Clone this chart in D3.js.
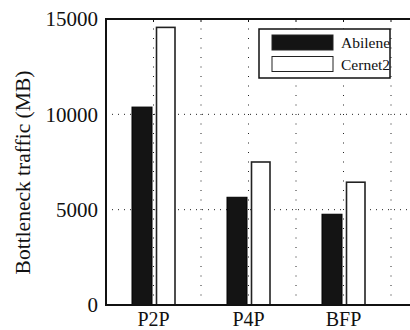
<!DOCTYPE html>
<html><head><meta charset="utf-8">
<script src="https://cdn.jsdelivr.net/npm/d3@7"></script>
<style>body{margin:0;background:#fff}svg{display:block}</style>
</head><body>
<svg id="c" width="410" height="330"></svg>
<script>
const categories = ["P2P", "P4P", "BFP"];
const seriesNames = ["Abilene", "Cernet2"];
const abilene = [10380, 5650, 4760];
const cernet2 = [14560, 7500, 6440];
const yTicks = [0, 5000, 10000, 15000];
const gridX = [1, 1.5, 2, 2.5, 3, 3.5];

(function () {
const FONT = "'Liberation Serif', 'Times New Roman', Times, serif";
const svg = d3.select("#c").attr("font-family", FONT);
const pl = 106, pt = 19, pb = 305;
const x = d3.scaleLinear().domain([0.5, 4]).range([pl, pl + 95 * 3.5]);
const y = d3.scaleLinear().domain([0, 15000]).range([pb, pt]);

// grid
svg.append("g").selectAll("line").data(gridX).join("line")
  .attr("x1", d => x(d)).attr("x2", d => x(d)).attr("y1", pt).attr("y2", pb)
  .attr("stroke", "#222").attr("stroke-width", 1).attr("stroke-dasharray", "1,8.5");
svg.append("g").selectAll("line").data([5000, 10000]).join("line")
  .attr("x1", pl).attr("x2", 410).attr("y1", d => y(d)).attr("y2", d => y(d))
  .attr("stroke", "#222").attr("stroke-width", 1).attr("stroke-dasharray", "1,5");

// bars
const data = categories.map((c, i) => ({c, i: i + 1, a: abilene[i], b: cernet2[i]}));
svg.append("g").selectAll("rect").data(data).join("rect")
  .attr("x", d => x(d.i) - 21.5).attr("width", 20)
  .attr("y", d => y(d.a)).attr("height", d => y(0) - y(d.a))
  .attr("fill", "#141414").attr("stroke", "#000").attr("stroke-width", 1);
svg.append("g").selectAll("rect").data(data).join("rect")
  .attr("x", d => x(d.i) + 3).attr("width", 18.5)
  .attr("y", d => y(d.b)).attr("height", d => y(0) - y(d.b))
  .attr("fill", "#fff").attr("stroke", "#222").attr("stroke-width", 1.6);

// frame
svg.append("path").attr("d", `M${x(4)},${pt}H${pl}V${pb}H${x(4)}`)
  .attr("fill", "none").attr("stroke", "#111").attr("stroke-width", 2);
svg.append("g").selectAll("line").data(gridX).join("line")
  .attr("x1", d => x(d)).attr("x2", d => x(d)).attr("y1", pt).attr("y2", pt + 3)
  .attr("stroke", "#111").attr("stroke-width", 1);

// y tick labels
svg.append("g").selectAll("text").data(yTicks).join("text")
  .attr("x", pl - 8).attr("y", d => y(d)).attr("dy", "0.35em").attr("fill", "#111")
  .attr("text-anchor", "end").attr("font-size", 21).text(d => d);

// x labels
svg.append("g").selectAll("text").data(data).join("text")
  .attr("x", d => x(d.i)).attr("y", 326).attr("fill", "#111")
  .attr("text-anchor", "middle").attr("font-size", 20).text(d => d.c);

// y title
svg.append("text").attr("transform", `translate(30,${(78 + 267) / 2}) rotate(-90)`)
  .attr("text-anchor", "middle").attr("font-size", 21.5).attr("fill", "#111").text("Bottleneck traffic (MB)");

// legend
const lg = svg.append("g");
lg.append("rect").attr("x", 259).attr("y", 29).attr("width", 131).attr("height", 49)
  .attr("fill", "#fff").attr("stroke", "#111").attr("stroke-width", 1.5);
const fills = ["#141414", "#fff"];
seriesNames.forEach((s, k) => {
  lg.append("rect").attr("x", 272).attr("y", 35 + k * 21.5).attr("width", 61).attr("height", 15)
    .attr("fill", fills[k]).attr("stroke", "#222").attr("stroke-width", 1);
  lg.append("text").attr("x", 341).attr("y", 48 + k * 21.5).attr("font-size", 15.5).attr("fill", "#111").text(s);
});
})();
</script>
</body></html>
